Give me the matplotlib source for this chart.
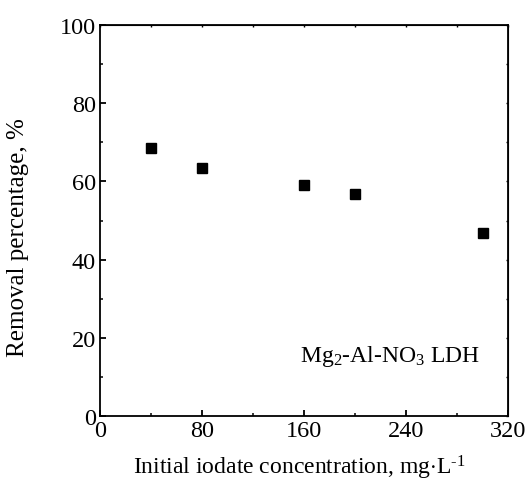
import numpy as np
import matplotlib
matplotlib.use("Agg")
import matplotlib.pyplot as plt
from matplotlib.ticker import MultipleLocator

plt.rcParams['font.family'] = ['Liberation Serif', 'DejaVu Serif']
plt.rcParams['mathtext.fontset'] = 'custom'
plt.rcParams['mathtext.rm'] = 'Liberation Serif'
plt.rcParams['mathtext.it'] = 'Liberation Serif:italic'

# data
conc = [40, 80, 160, 200, 300]          # mg/L
removal = [68.5, 63.4, 59.2, 56.9, 46.7]  # %

fig = plt.figure(figsize=(5.30, 4.89), dpi=100)
ax = fig.add_axes([0.1887, 0.1472, 0.7698, 0.7996])

ax.plot(conc, removal, 's', color='black', markersize=6.5, linestyle='none')

ax.set_xlim(0, 320)
ax.set_ylim(0, 100)
ax.xaxis.set_major_locator(MultipleLocator(80))
ax.xaxis.set_minor_locator(MultipleLocator(40))
ax.yaxis.set_major_locator(MultipleLocator(20))
ax.yaxis.set_minor_locator(MultipleLocator(10))

for s in ax.spines.values():
    s.set_linewidth(1.3)

ax.tick_params(which='major', direction='in', length=4.5, width=1.3, labelsize=17.5, pad=3)
ax.tick_params(which='minor', direction='in', length=2.5, width=1.1)

# tiny ticks on top/right
top = ax.secondary_xaxis('top')
top.xaxis.set_major_locator(MultipleLocator(40))
top.tick_params(direction='in', length=1.5, width=1, labeltop=False)
right = ax.secondary_yaxis('right')
right.yaxis.set_major_locator(MultipleLocator(10))
right.tick_params(direction='in', length=1.5, width=1, labelright=False)

ax.set_xlabel(r'Initial iodate concentration, mg$\cdot$L$^{\text{-1}}$', fontsize=17)
ax.set_ylabel('Removal percentage, %', fontsize=18)
ax.xaxis.set_label_coords(0.488, -0.095, transform=ax.transAxes)
ax.yaxis.set_label_coords(-0.175, 0.458, transform=ax.transAxes)

ax.text(0.49, 0.14, r'Mg$_2$-Al-NO$_3$ LDH', transform=ax.transAxes, fontsize=17)

fig.savefig('out.png', dpi=100)
